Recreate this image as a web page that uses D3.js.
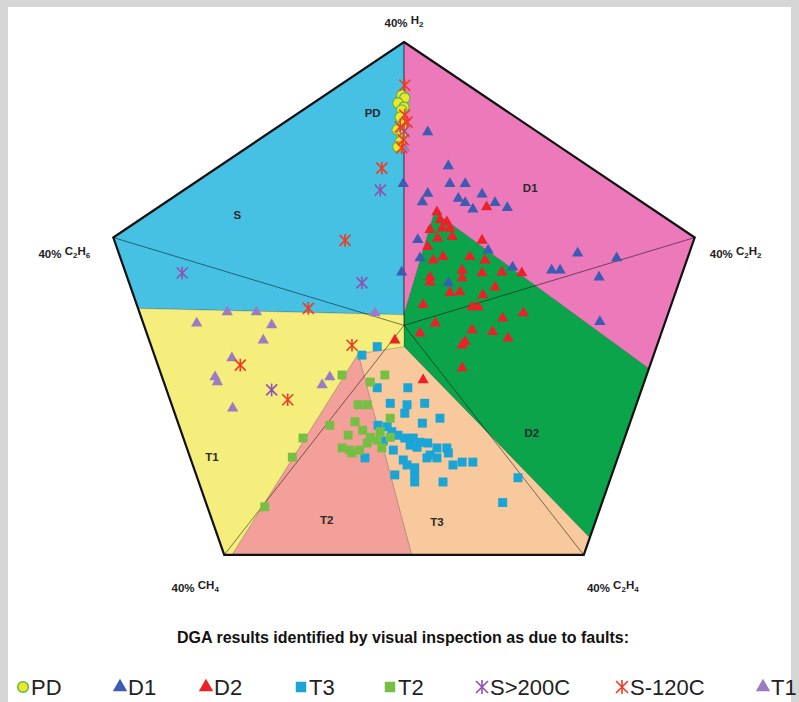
<!DOCTYPE html>
<html>
<meta charset="utf-8">
  <head>
    <script src="https://d3js.org/d3.v7.min.js"></script>
    <style>
      body { margin: 0; background: #fff; }
      text { font-family: Arial, "Liberation Sans", sans-serif; }
    </style>
  </head>
  <body>
    <div id="my_dataviz"></div>
    <script>

    // pentagon corners (Duval % coordinates) and their labels
    var gasNames = ["H2", "C2H2", "C2H4", "CH4", "C2H6"];
    var gasCorners = [[0, 40], [38, 12.4], [23.5, -32.4], [-23.5, -32.4], [-38, 12.4]];

    // fault zones
    var zoneNames = ["S", "D1", "D2", "T3", "T2", "T1"];
    var zonePolys = [
      [[0, 1.5], [-34.7, 2.4], [-38, 12.4], [0, 40]],
      [[0, 40], [38, 12.4], [32, -6.1], [4, 16], [0, 1.5]],
      [[4, 16], [32, -6.1], [24.3, -30], [0, -3], [0, 1.5]],
      [[0, -3], [24.3, -30], [23.5, -32.4], [1, -32.4], [-6, -4]],
      [[-6, -4], [1, -32.4], [-22.5, -32.4]],
      [[-6, -4], [-22.5, -32.4], [-23.5, -32.4], [-34.7, 2.4], [0, 1.5], [0, -3]]
    ];
    var zoneLabels = ["PD", "S", "D1", "D2", "T1", "T2", "T3"];
    var zoneLabelPos = [[-4.1, 30], [-21.8, 15.6], [16.5, 19.4], [16.7, -15.2], [-25.1, -18.6], [-10.1, -27.5], [4.3, -27.8]];

    // DGA results (Duval % coordinates)
    var pdPts = [[-0.3, 32.5], [0.1, 32.1], [-0.8, 31.4], [0, 30.8], [-0.3, 30.4], [-0.5, 29.4], [-0.1, 28.3],
      [-0.9, 27.6], [-0.3, 26.9], [-0.5, 25.9], [-0.8, 25.2]];
    var d1Pts = [[3.1, 27.3], [5.8, 22.5], [-0.1, 20.0], [6.0, 20.0], [8.0, 20.0], [3.1, 18.6], [7.1, 17.9],
      [10.2, 18.5], [2.4, 17.4], [8.0, 17.3], [9.0, 16.4], [11.9, 17.3], [13.5, 16.6], [1.8, 12.1],
      [2.1, 9.5], [-0.3, 7.5], [11.0, 10.6], [14.2, 8.2], [19.3, 7.8], [20.4, 7.8], [22.7, 10.2],
      [27.8, 9.5], [25.5, 6.8], [25.6, 0.5], [5.8, 6.0]];
    var d2Pts = [[10.8, 16.7], [4.3, 16.0], [4.7, 14.9], [5.6, 14.6], [6.0, 13.7], [5.0, 13.7], [3.4, 13.5],
      [4.4, 12.3], [6.3, 12.5], [10.2, 12.0], [3.1, 11.1], [5.1, 9.7], [3.8, 9.2], [8.6, 9.7], [10.6, 9.2],
      [7.6, 7.8], [10.2, 7.4], [12.8, 7.5], [3.4, 6.8], [3.4, 6.1], [7.6, 6.7], [15.4, 7.4], [11.9, 5.4],
      [6.0, 4.6], [7.3, 4.7], [10.3, 4.3], [8.9, 2.6], [9.7, 2.6], [2.5, 2.9], [12.9, 1.0], [15.6, 1.75],
      [4.1, 0.3], [2.1, -1.1], [8.9, -0.65], [11.6, -0.9], [13.6, -1.8], [8.0, -2.3], [7.6, -2.8],
      [7.6, -6.0], [2.5, -7.7], [-1.2, -2.1]];
    var t3Pts = [[-3.5, -3.0], [-5.5, -4.2], [-3.5, -8.8], [0.5, -8.8], [-1.8, -11.0], [0.4, -11.2], [0.1, -12.4],
      [2.7, -11.0], [4.7, -13.1], [2.4, -13.8], [-3.4, -14.1], [-2.2, -14.3], [-1.6, -15.0], [-0.8, -15.5],
      [0.1, -15.9], [1.2, -15.9], [2.1, -16.5], [3.1, -16.6], [4.3, -17.3], [5.6, -17.3], [5.8, -18.0],
      [0.8, -16.9], [1.7, -17.2], [3.4, -18.3], [4.3, -18.7], [-1.4, -17.6], [-5.1, -18.7], [-0.1, -19.0],
      [0.4, -19.7], [3.0, -18.7], [6.4, -19.7], [7.6, -19.3], [9.0, -19.3], [1.4, -20.1], [1.4, -21.1],
      [-1.2, -21.1], [5.1, -22.1], [1.4, -22.1], [14.9, -21.5], [12.9, -25.0], [-2.7, -16.3]];
    var t2Pts = [[-8.1, -7.0], [-2.5, -7.0], [-4.4, -8.0], [-6.0, -11.2], [-4.8, -11.2], [-9.7, -14.1],
      [-13.2, -15.9], [-14.6, -18.6], [-6.4, -13.6], [-7.3, -15.5], [-7.1, -17.6], [-5.4, -14.8],
      [-4.4, -15.8], [-3.5, -16.2], [-3.1, -15.0], [-1.8, -13.1], [-4.8, -16.6], [-5.8, -17.6],
      [-1.8, -15.8], [-2.9, -17.3], [-8.1, -17.3], [-6.8, -18.0], [-18.2, -25.6]];
    var s200Pts = [[-3.1, 19.1], [-29.0, 7.4], [-5.5, 6.0], [-17.3, -9.1], [0, 27.4]];
    var s120Pts = [[0.1, 33.9], [0.1, 29.7], [0.4, 28.7], [-0.5, 28.0], [-0.1, 26.2], [-0.3, 25.1],
      [-2.9, 22.2], [-7.7, 12.0], [-12.5, 2.4], [-6.8, -2.8], [-21.4, -5.6], [-15.2, -10.5]];
    var t1Pts = [[-23.1, 1.9], [-19.3, 1.9], [-27.1, 0.3], [-17.3, 0.06], [-18.4, -2.1], [-3.8, 1.75],
      [-22.5, -4.6], [-24.4, -8.0], [-24.7, -7.3], [-10.7, -8.4], [-9.7, -7.3], [-22.4, -11.7], [0.1, 25.0]];

    // legend
    var legendNames = ["PD", "D1", "D2", "T3", "T2", "S>200C", "S-120C", "T1"];
    var legendX = [23, 120, 206, 301, 390, 482, 622, 763];

    var zoneColors = ["#46c1e4", "#ec79b9", "#0ba44b", "#f8c99c", "#f3a09b", "#f5ee7c"];
    var markColors = {PD: "#eee62c", D1: "#3b5cb2", D2: "#ec2128", T3: "#1aa5d6", T2: "#77bf44",
      "S>200C": "#8d52b3", "S-120C": "#ef3c23", T1: "#9b7bc4"};

    var width = 799, height = 702;

    var svg = d3.select("#my_dataviz")
      .append("svg")
        .attr("width", width)
        .attr("height", height);

    // grey frame round the picture
    svg.append("rect").attr("width", width).attr("height", height).attr("fill", "#d6d6d6");
    svg.append("rect").attr("x", 8).attr("y", 7).attr("width", 783).attr("height", height - 7).attr("fill", "#fff");

    var x = d3.scaleLinear().domain([-40, 40]).range([98, 710]);
    var y = d3.scaleLinear().domain([-40, 40]).range([608.8, 42]);

    var line = d3.line()
      .x(function(d) { return x(d[0]); })
      .y(function(d) { return y(d[1]); })
      .curve(d3.curveLinearClosed);

    // zones
    svg.selectAll(".zone")
      .data(zonePolys)
      .enter()
      .append("path")
        .attr("class", "zone")
        .attr("d", line)
        .attr("fill", function(d, i) { return zoneColors[i]; })
        .attr("stroke", "rgba(0,0,0,0.25)")
        .attr("stroke-width", 0.7);

    // axes from each corner to centre
    svg.selectAll(".axis")
      .data(gasCorners)
      .enter()
      .append("line")
        .attr("x1", function(d) { return x(d[0]); })
        .attr("y1", function(d) { return y(d[1]); })
        .attr("x2", x(0))
        .attr("y2", y(0))
        .attr("stroke", "rgba(0,0,0,0.5)")
        .attr("stroke-width", 1);

    // outer outline
    svg.append("path")
      .attr("d", line(gasCorners))
      .attr("fill", "none")
      .attr("stroke", "#111")
      .attr("stroke-width", 2.2)
      .attr("stroke-linejoin", "miter");

    // corner labels
    var labelOff = [[0, -19], [41, 16], [29, 33], [-29, 33], [-49, 16]];
    gasNames.forEach(function(g, i) {
      var t = svg.append("text")
        .attr("x", x(gasCorners[i][0]) + labelOff[i][0])
        .attr("y", y(gasCorners[i][1]) + labelOff[i][1] + 4)
        .attr("text-anchor", "middle")
        .style("font-size", "11.5px")
        .style("font-weight", "bold")
        .attr("fill", "#222");
      t.append("tspan").text("40% ");
      g.split(/(\d)/).forEach(function(p) {
        if (p === "") return;
        if (/\d/.test(p)) {
          t.append("tspan").attr("dy", 3).style("font-size", "8px").text(p);
        } else {
          t.append("tspan").attr("dy", t.selectAll("tspan").size() > 1 ? -3 : 0).text(p);
        }
      });
    });

    // zone labels
    svg.selectAll(".zlab")
      .data(zoneLabels)
      .enter()
      .append("text")
        .attr("x", function(d, i) { return x(zoneLabelPos[i][0]); })
        .attr("y", function(d, i) { return y(zoneLabelPos[i][1]) + 4; })
        .attr("text-anchor", "middle")
        .style("font-size", "11.5px")
        .style("font-weight", "bold")
        .attr("fill", "#2a2a2a")
        .text(function(d) { return d; });

    // marker shapes
    function crossPath(r) {
      return "M" + (-r) + "," + (-r) + "L" + r + "," + r +
             "M" + r + "," + (-r) + "L" + (-r) + "," + r +
             "M0," + (-r * 1.15) + "L0," + (r * 1.15);
    }
    var tri = d3.symbol().type(d3.symbolTriangle).size(55);
    var sq = d3.symbol().type(d3.symbolSquare).size(80);

    function drawMarks(pts, kind, shape) {
      var sel = svg.append("g").selectAll("path")
        .data(pts)
        .enter()
        .append("path")
          .attr("transform", function(d) { return "translate(" + x(d[0]) + "," + y(d[1]) + ")"; });
      if (shape === "cross") {
        sel.attr("d", crossPath(5.5)).attr("fill", "none")
          .attr("stroke", markColors[kind]).attr("stroke-width", 1.6);
      } else if (shape === "circle") {
        sel.attr("d", d3.symbol().type(d3.symbolCircle).size(85)())
          .attr("fill", markColors[kind]).attr("stroke", "#5fb84a").attr("stroke-width", 1.3);
      } else {
        sel.attr("d", shape === "tri" ? tri() : sq())
          .attr("fill", markColors[kind]);
      }
    }

    drawMarks(t3Pts, "T3", "sq");
    drawMarks(t2Pts, "T2", "sq");
    drawMarks(d1Pts, "D1", "tri");
    drawMarks(d2Pts, "D2", "tri");
    drawMarks(t1Pts, "T1", "tri");
    drawMarks(pdPts, "PD", "circle");
    drawMarks(s200Pts, "S>200C", "cross");
    drawMarks(s120Pts, "S-120C", "cross");

    // title
    svg.append("text")
      .attr("x", 403)
      .attr("y", 643)
      .attr("text-anchor", "middle")
      .style("font-size", "16px")
      .style("font-weight", "bold")
      .attr("fill", "#111")
      .text("DGA results identified by visual inspection as due to faults:");

    // legend
    var legendShape = {PD: "circle", D1: "tri", D2: "tri", T3: "sq", T2: "sq", "S>200C": "cross", "S-120C": "cross", T1: "tri"};
    legendNames.forEach(function(n, i) {
      var g = svg.append("g").attr("transform", "translate(" + legendX[i] + ",687)");
      var s = legendShape[n];
      if (s === "cross") {
        g.append("path").attr("d", crossPath(6)).attr("fill", "none")
          .attr("stroke", markColors[n]).attr("stroke-width", 1.6);
      } else if (s === "circle") {
        g.append("path").attr("d", d3.symbol().type(d3.symbolCircle).size(90)())
          .attr("fill", markColors[n]).attr("stroke", "#5fb84a").attr("stroke-width", 1.5);
      } else {
        g.append("path")
          .attr("d", s === "tri" ? d3.symbol().type(d3.symbolTriangle).size(90)() : d3.symbol().type(d3.symbolSquare).size(110)())
          .attr("fill", markColors[n]);
      }
      g.append("text")
        .attr("x", 8)
        .attr("y", 8)
        .style("font-size", "22px")
        .attr("fill", "#222")
        .text(n);
    });

    </script>
  </body>
</html>
